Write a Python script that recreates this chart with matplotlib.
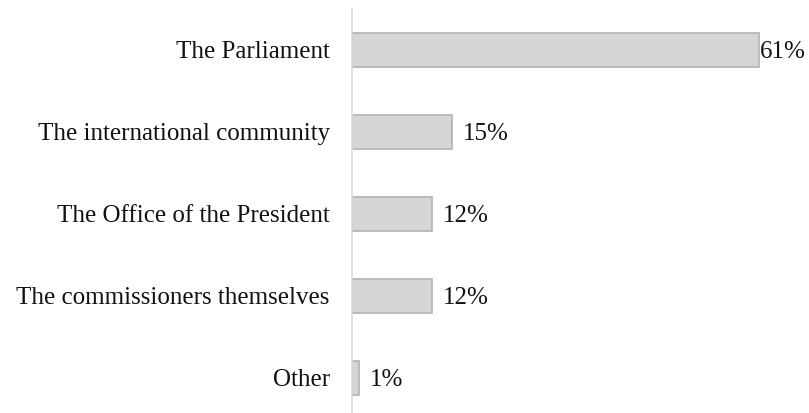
import matplotlib.pyplot as plt

plt.rcParams['font.family'] = ['Liberation Serif', 'DejaVu Serif']

categories = ['The Parliament', 'The international community', 'The Office of the President',
              'The commissioners themselves', 'Other']
values = [61, 15, 12, 12, 1]
value_labels = ['61%', '15%', '12%', '12%', '1%']

fig = plt.figure(figsize=(8.09, 4.13), dpi=100)
ax = fig.add_axes([352 / 809, 0.0, 1 - 352 / 809, 1 - 9 / 413])

y = list(range(len(categories)))
ax.barh(y, values, height=0.41, color='#d6d6d6', edgecolor='#b3b3b3', linewidth=1.2)

ax.set_ylim(4.43, -0.5)
ax.set_xlim(0, (809 - 352) / 6.67)

for i, (v, lab) in enumerate(zip(values, value_labels)):
    pad = 1 if i == 0 else 11
    ax.annotate(lab, (v, i), xytext=(pad, -2), textcoords='offset pixels',
                va='center', ha='left', fontsize=18, color='#111111')

ax.set_yticks(y)
ax.set_yticklabels(categories, fontsize=18, color='#111111')
ax.tick_params(axis='y', length=0, pad=16)
ax.set_xticks([])

for s in ['top', 'right', 'bottom']:
    ax.spines[s].set_visible(False)
ax.spines['left'].set_color('#d9d9d9')
ax.spines['left'].set_linewidth(1.2)

fig.savefig('out.png', dpi=100)
